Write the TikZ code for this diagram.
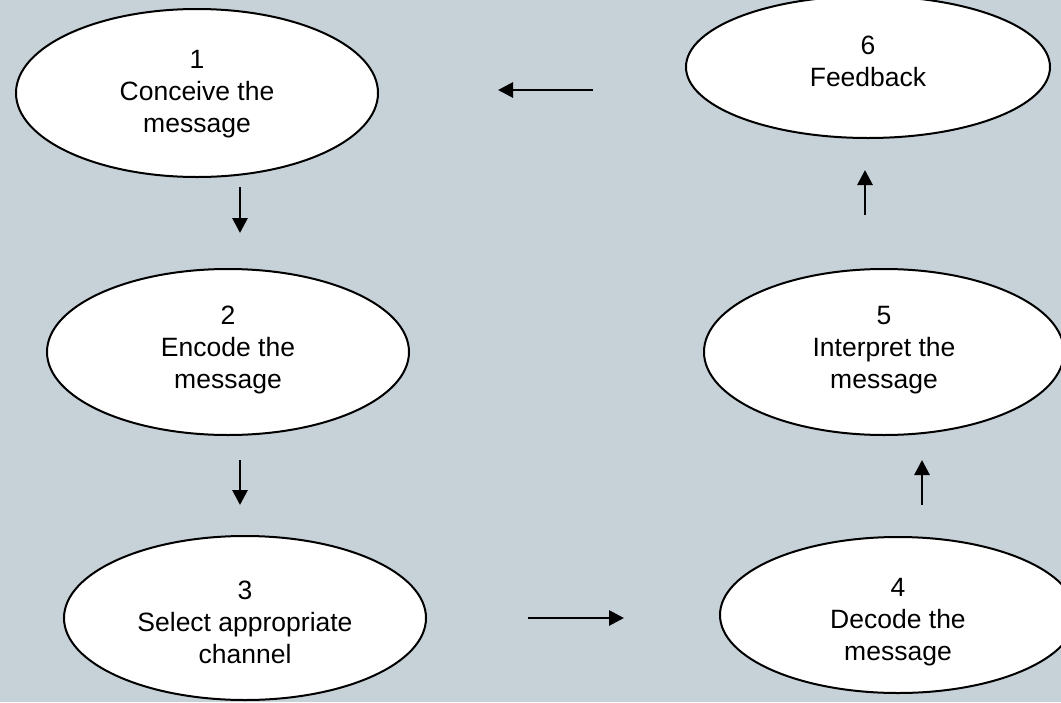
\documentclass[tikz,border=0pt]{standalone}
\usepackage{fontspec}
\setmainfont{Liberation Sans}
\usetikzlibrary{shapes.geometric,arrows.meta}
\definecolor{bg}{RGB}{198,209,216}
\tikzset{
  ell/.style={ellipse, draw=black, line width=2pt, fill=white, inner sep=0pt},
  txt/.style={align=center, font=\fontsize{26.5}{32}\selectfont, inner sep=0pt},
  flow/.style={line width=2.8pt, -{Triangle[length=15pt,width=15pt]}}
}
\begin{document}
\begin{tikzpicture}[x=1pt,y=-1pt]
\fill[bg] (0,0) rectangle (1061,702);
\useasboundingbox (0,0) rectangle (1061,702);
% ellipses
\node[ell, minimum width=362pt, minimum height=168pt] (n1) at (197,93) {};
\node[ell, minimum width=364pt, minimum height=142pt] (n6) at (868,67) {};
\node[ell, minimum width=362pt, minimum height=166pt] (n2) at (228,352) {};
\node[ell, minimum width=360pt, minimum height=166pt] (n5) at (884,352) {};
\node[ell, minimum width=362pt, minimum height=164pt] (n3) at (245,618) {};
\node[ell, minimum width=356pt, minimum height=156pt] (n4) at (898,615) {};
% texts
\node[txt] (t1) at (197,94) {1\\Conceive the\\message};
\node[txt] (t6) at (868,61) {6\\Feedback};
\node[txt] (t2) at (228,350) {2\\Encode the\\message};
\node[txt] (t5) at (884,350) {5\\Interpret the\\message};
\node[txt] (t3) at (245,622) {3\\Select appropriate\\channel};
\node[txt] (t4) at (898,622) {4\\Decode the\\message};
% arrow ends
\coordinate (a1s) at (240,187); \coordinate (a1e) at (240,233);
\coordinate (a2s) at (240,460); \coordinate (a2e) at (240,505);
\coordinate (a3s) at (528,618); \coordinate (a3e) at (624,618);
\coordinate (a4s) at (922,505); \coordinate (a4e) at (922,460);
\coordinate (a5s) at (865,215); \coordinate (a5e) at (865,170);
\coordinate (a6s) at (593,90);  \coordinate (a6e) at (498,90);
\draw[flow] (a1s) -- (a1e);
\draw[flow] (a2s) -- (a2e);
\draw[flow] (a3s) -- (a3e);
\draw[flow] (a4s) -- (a4e);
\draw[flow] (a5s) -- (a5e);
\draw[flow] (a6s) -- (a6e);
\end{tikzpicture}
\end{document}
